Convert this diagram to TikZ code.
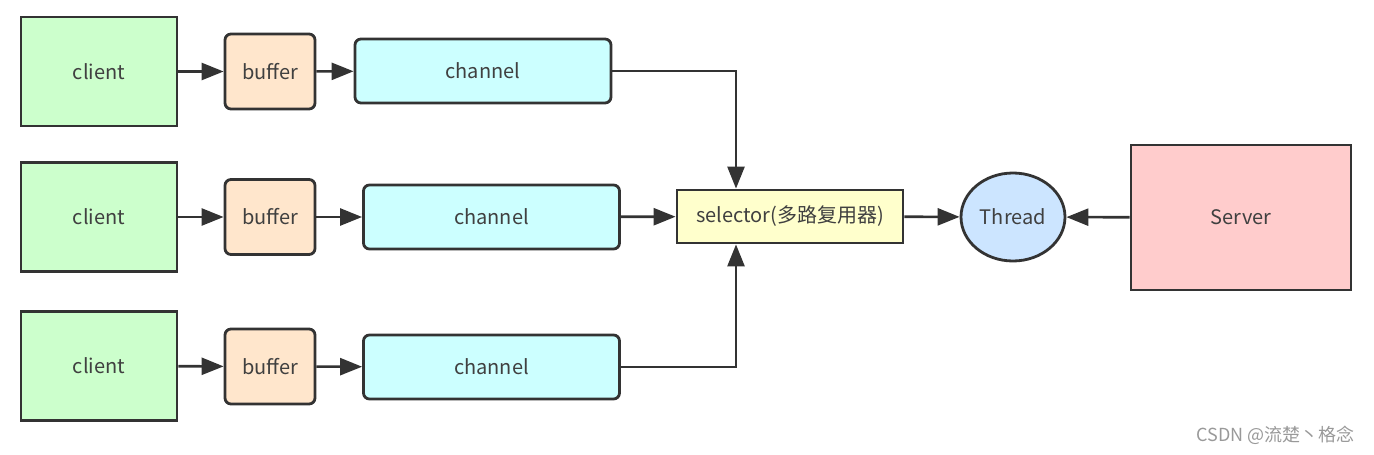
\documentclass[tikz,border=0pt]{standalone}
\usepackage{fontspec}
\setmainfont{Noto Sans CJK SC}
\usetikzlibrary{arrows.meta,shapes.geometric}
\definecolor{strokec}{HTML}{333333}
\definecolor{txtc}{HTML}{404040}
\begin{document}
\begin{tikzpicture}[x=1pt,y=-1pt,
  box/.style={draw=strokec,line width=2.8pt,text=txtc,font=\fontsize{20}{20}\selectfont,inner sep=0pt},
  clientbox/.style={box,fill=green!20,minimum width=156pt,minimum height=109pt},
  bufferbox/.style={box,fill={rgb,255:red,255;green,230;blue,204},rounded corners=6pt,minimum width=90pt,minimum height=75pt},
  chanbox/.style={box,fill={rgb,255:red,204;green,255;blue,255},rounded corners=6pt,minimum width=256pt,minimum height=64pt},
  link/.style={draw=strokec,line width=2.6pt,-{Triangle[length=22pt,width=17pt]}},
]
\useasboundingbox (0,0) rectangle (1374,455);
\node[clientbox] (c1) at (99,71.5) {client};
\node[bufferbox] (b1) at (270,71.5) {buffer};
\node[chanbox] (h1) at (483,71) {channel};
\node[clientbox] (c2) at (99,217) {client};
\node[bufferbox] (b2) at (270,217) {buffer};
\node[chanbox] (h2) at (491.5,217) {channel};
\node[clientbox] (c3) at (99,366) {client};
\node[bufferbox] (b3) at (270,366.5) {buffer};
\node[chanbox] (h3) at (491.5,367) {channel};
\node[box,fill={rgb,255:red,255;green,255;blue,204},minimum width=226pt,minimum height=53pt] (sel) at (790,216.5) {selector(多路复用器)};
\node[box,ellipse,fill={rgb,255:red,204;green,229;blue,255},minimum width=104pt,minimum height=88pt] (th) at (1013,217) {Thread};
\node[box,fill={rgb,255:red,255;green,204;blue,204},minimum width=220pt,minimum height=145pt] (srv) at (1241,217.5) {Server};
\node[text=gray!80,font=\fontsize{18}{18}\selectfont,anchor=east] (wm) at (1358,435) {CSDN @流楚丶格念};
\foreach \i in {1,2,3} {
  \draw[link] (c\i) -- (b\i);
  \draw[link] (b\i) -- (h\i);
}
\draw[link] (h2) -- (sel);
\coordinate (k1) at (736,71);
\coordinate (k3) at (736,367);
\draw[link] (h1.east) -- (k1) -- (k1 |- sel.north);
\draw[link] (h3.east) -- (k3) -- (k3 |- sel.south);
\draw[link] (sel) -- (th);
\draw[link] (srv) -- (th);
\end{tikzpicture}
\end{document}
